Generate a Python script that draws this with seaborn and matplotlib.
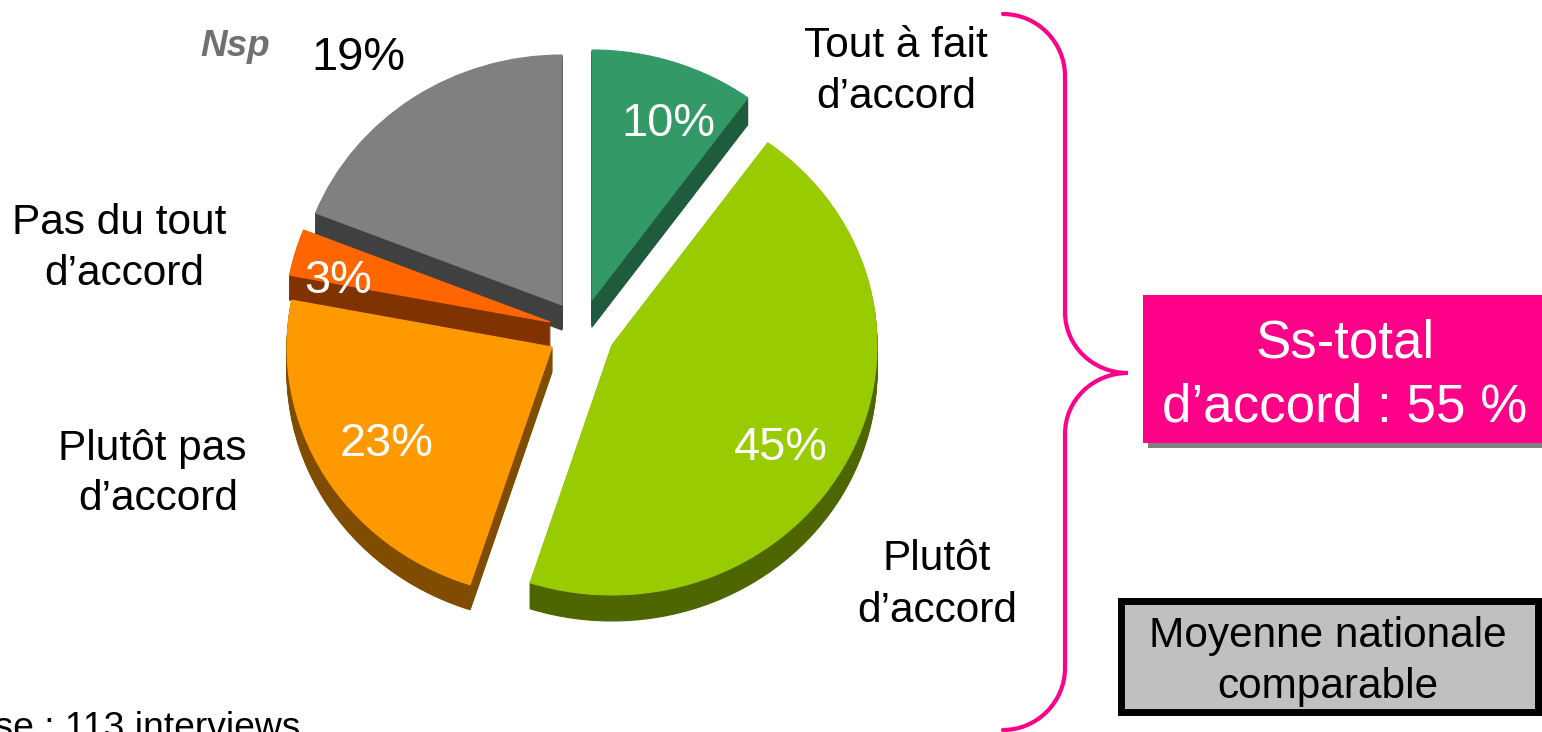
import matplotlib
matplotlib.use("Agg")
import matplotlib.pyplot as plt
import seaborn as sns
from matplotlib.patches import Rectangle, PathPatch
from matplotlib.path import Path

# ---- data
categories = ["Tout à fait\nd’accord", "Plutôt\nd’accord", "Plutôt pas\nd’accord", "Pas du tout\nd’accord", "Nsp"]
values = [10, 45, 23, 3, 19]
subtotal_label = "Ss-total\nd’accord : 55 %"
national_label = "Moyenne nationale\ncomparable"
base_label = "Base : 113 interviews"

# ---- style
top_colors = ["#339966", "#99CC00", "#FF9900", "#FF6600", "#808080"]
side_colors = ["#1F5C3D", "#4D6600", "#804D00", "#803300", "#404040"]
centers_px = [(592, 300), (612, 345), (552, 347), (550, 322), (562, 305)]
depths = [27, 26, 25, 25, 25]
draw_order = [4, 3, 0, 2, 1]
RX, RY = 265.0, 250.0
W, H = 1542, 732
PINK = "#FF0088"
FONT = "Liberation Sans"
LABEL_SIZE = 30.5
PCT_SIZE = 33.8

sns.set_theme(style="white")
plt.rcParams["font.family"] = [FONT, "DejaVu Sans"]
plt.rcParams["text.color"] = "black"

fig = plt.figure(figsize=(W / 100, H / 100), dpi=100, facecolor="white")
ax = fig.add_axes([0, 0, 1, 1])


def to_data(px, py):
    return px / RX, (H - py) / RY


starts = [sum(values[:i]) for i in range(len(values))]
for i in draw_order:
    start_angle = 90 - starts[i] * 3.6
    cx, cy = centers_px[i]
    for d in range(depths[i], 0, -1):
        ax.pie([values[i] / 100], colors=[side_colors[i]], startangle=start_angle,
               counterclock=False, normalize=False, radius=1,
               center=to_data(cx, cy + d),
               wedgeprops={"linewidth": 0.8, "edgecolor": side_colors[i], "joinstyle": "round"})
    ax.pie([values[i] / 100], colors=[top_colors[i]], startangle=start_angle,
           counterclock=False, normalize=False, radius=1,
           center=to_data(cx, cy),
           wedgeprops={"linewidth": 0.8, "edgecolor": top_colors[i], "joinstyle": "round"})
ax.set_xlim(0, W / RX)
ax.set_ylim(0, H / RY)
ax.set_aspect("auto")
ax.axis("off")

# overlay in pixel coordinates for annotations
ov = fig.add_axes([0, 0, 1, 1], facecolor="none")
ov.set_xlim(0, W)
ov.set_ylim(H, 0)
ov.axis("off")


def two_lines(text, x1, y1, x2, y2, size, color="black"):
    a, b = text.split("\n")
    ov.text(x1, y1, a, fontsize=size, color=color, ha="center", va="baseline")
    ov.text(x2, y2, b, fontsize=size, color=color, ha="center", va="baseline")


# category labels
two_lines(categories[0], 896, 57, 896, 108, LABEL_SIZE)
two_lines(categories[1], 937, 570, 937, 622, LABEL_SIZE)
two_lines(categories[2], 152, 460, 158, 510, LABEL_SIZE)
two_lines(categories[3], 119, 234, 124, 285, LABEL_SIZE)
ov.text(235, 56, categories[4], fontsize=26.6, ha="center", va="baseline",
        color="#707070", fontweight="bold", fontstyle="italic")

# percent labels
pct_pos = [(668, 136, "white"), (781, 460, "white"), (387, 456, "white"), (338, 293, "white"), (358, 70, "black")]
for v, (x, y, c) in zip(values, pct_pos):
    ov.text(x, y, f"{v}%", fontsize=PCT_SIZE, ha="center", va="baseline", color=c)

# brace
verts = [(1003, 14), (1037, 14), (1065, 42), (1065, 76), (1065, 312),
         (1065, 346), (1093, 373), (1128, 373), (1093, 373), (1065, 400), (1065, 434),
         (1065, 668), (1065, 702), (1037, 730), (1003, 730)]
codes = [Path.MOVETO, Path.CURVE4, Path.CURVE4, Path.CURVE4, Path.LINETO,
         Path.CURVE4, Path.CURVE4, Path.CURVE4, Path.CURVE4, Path.CURVE4, Path.CURVE4,
         Path.LINETO, Path.CURVE4, Path.CURVE4, Path.CURVE4]
ov.add_patch(PathPatch(Path(verts, codes), fill=False, edgecolor=PINK, linewidth=3.0, capstyle="round"))

# subtotal box
ov.add_patch(Rectangle((1148, 300), 394, 148, facecolor="#808080", edgecolor="none"))
ov.add_patch(Rectangle((1143, 295), 399, 148, facecolor=PINK, edgecolor="none"))
two_lines(subtotal_label, 1345, 358, 1345, 422, 38.1, "white")

# national box
ov.add_patch(Rectangle((1120.5, 600.5), 417, 111, facecolor="#C0C0C0", edgecolor="black", linewidth=5))
two_lines(national_label, 1328, 647, 1328, 698, 30.5)

# base note (cropped by the picture edge, as in the reference)
ov.text(300, 738, base_label, fontsize=26.8, color="black", ha="right", va="baseline")

fig.savefig("out.png", dpi=100, facecolor="white")
